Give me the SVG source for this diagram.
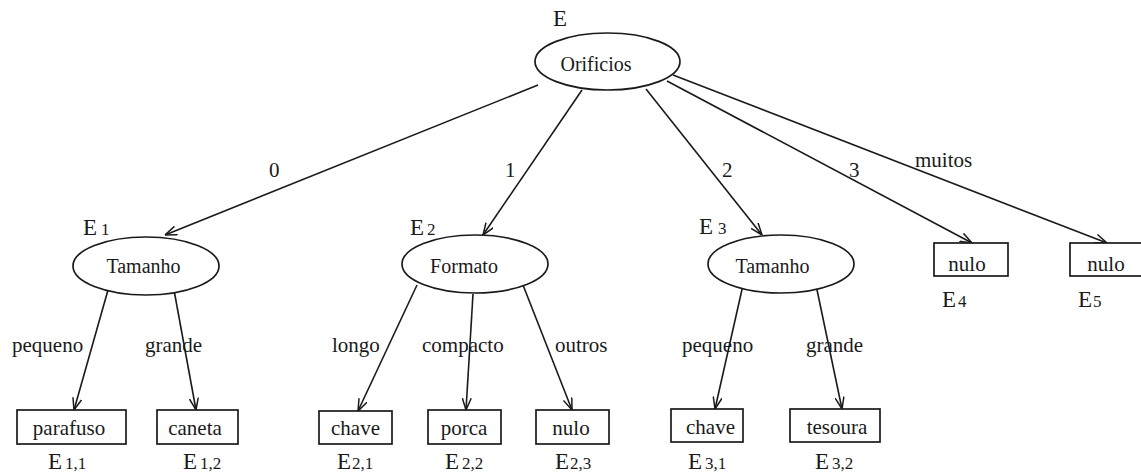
<svg xmlns="http://www.w3.org/2000/svg" width="1141" height="473" viewBox="0 0 1141 473">
<style>
text{font-family:"Liberation Serif","Times New Roman",serif;fill:#1a1a1a}
.nl{font-size:20px;text-anchor:middle}
.bl{font-size:21px;text-anchor:middle}
.el{font-size:21px}
.E{font-size:23px}
.s{font-size:17px}
ellipse,rect{fill:#fff;stroke:#1a1a1a;stroke-width:1.7}
.c line{stroke:#1a1a1a;stroke-width:1.6;marker-end:url(#a)}
</style>
<defs>
<marker id="a" viewBox="0 0 12 10" refX="12" refY="5" markerWidth="12" markerHeight="10" markerUnits="userSpaceOnUse" orient="auto">
<path d="M0,0.5 L12,5 L0,9.5" fill="none" stroke="#1a1a1a" stroke-width="1.5"/>
</marker>
</defs>
<rect x="0" y="0" width="1141" height="473" style="fill:#fff;stroke:none"/>
<g class="c" id="connectors">
<line x1="538" y1="85" x2="165" y2="235"/>
<line x1="582" y1="90" x2="483" y2="235"/>
<line x1="646" y1="89" x2="762" y2="235"/>
<line x1="667" y1="81" x2="972" y2="243"/>
<line x1="673" y1="75" x2="1107" y2="243"/>
<line x1="108" y1="290" x2="74" y2="410"/>
<line x1="174" y1="290" x2="196" y2="410"/>
<line x1="417" y1="285" x2="358" y2="411"/>
<line x1="473" y1="294" x2="466" y2="410"/>
<line x1="523" y1="285" x2="572" y2="410"/>
<line x1="743" y1="285" x2="715" y2="409"/>
<line x1="816" y1="285" x2="842" y2="409"/>
<text class="el" x="269" y="177">0</text>
<text class="el" x="505" y="177">1</text>
<text class="el" x="722" y="177">2</text>
<text class="el" x="849" y="177">3</text>
<text class="el" x="915" y="167">muitos</text>
<text class="el" x="12" y="352">pequeno</text>
<text class="el" x="145" y="352">grande</text>
<text class="el" x="332" y="352">longo</text>
<text class="el" x="422" y="352">compacto</text>
<text class="el" x="555" y="352">outros</text>
<text class="el" x="682" y="352">pequeno</text>
<text class="el" x="806" y="352">grande</text>
</g>
<g id="E">
<ellipse cx="607.5" cy="61.5" rx="72.5" ry="28.5"/>
<text class="nl" x="596" y="71">Orificios</text>
<text class="E" x="553" y="26">E</text>
</g>
<g id="E1">
<ellipse cx="146" cy="266" rx="73" ry="29"/>
<text class="nl" x="143.5" y="273">Tamanho</text>
<text class="E" x="83" y="235">E<tspan class="s" dx="4">1</tspan></text>
</g>
<g id="E2">
<ellipse cx="475" cy="264" rx="73" ry="29"/>
<text class="nl" x="464" y="273">Formato</text>
<text class="E" x="410" y="235">E<tspan class="s" dx="3">2</tspan></text>
</g>
<g id="E3">
<ellipse cx="781" cy="264" rx="73" ry="29"/>
<text class="nl" x="772.5" y="273">Tamanho</text>
<text class="E" x="699" y="234">E<tspan class="s" dx="5">3</tspan></text>
</g>
<g id="E4">
<rect x="934" y="243" width="74" height="33"/>
<text class="bl" x="967" y="271">nulo</text>
<text class="E" x="942" y="307">E<tspan class="s" dx="2">4</tspan></text>
</g>
<g id="E5">
<rect x="1070" y="243" width="74" height="33"/>
<text class="bl" x="1106" y="271">nulo</text>
<text class="E" x="1078" y="307">E<tspan class="s" dx="1">5</tspan></text>
</g>
<g id="E11">
<rect x="17" y="410" width="109" height="34"/>
<text class="bl" x="69" y="435">parafuso</text>
<text class="E" x="48" y="469">E<tspan class="s" dx="3">1,1</tspan></text>
</g>
<g id="E12">
<rect x="157" y="410" width="81" height="34"/>
<text class="bl" x="195" y="435">caneta</text>
<text class="E" x="183" y="469">E<tspan class="s" dx="3">1,2</tspan></text>
</g>
<g id="E21">
<rect x="319" y="411" width="73" height="33"/>
<text class="bl" x="355.5" y="435">chave</text>
<text class="E" x="337" y="469">E<tspan class="s" dx="1">2,1</tspan></text>
</g>
<g id="E22">
<rect x="428" y="410" width="73" height="34"/>
<text class="bl" x="464" y="435">porca</text>
<text class="E" x="445" y="469">E<tspan class="s" dx="3">2,2</tspan></text>
</g>
<g id="E23">
<rect x="536" y="410" width="73" height="34"/>
<text class="bl" x="571" y="435">nulo</text>
<text class="E" x="555" y="469">E<tspan class="s" dx="1">2,3</tspan></text>
</g>
<g id="E31">
<rect x="671" y="409" width="72" height="33"/>
<text class="bl" x="710.5" y="434">chave</text>
<text class="E" x="688" y="469">E<tspan class="s" dx="3">3,1</tspan></text>
</g>
<g id="E32">
<rect x="790" y="409" width="90" height="33"/>
<text class="bl" x="837" y="434">tesoura</text>
<text class="E" x="815" y="469">E<tspan class="s" dx="3">3,2</tspan></text>
</g>
</svg>
